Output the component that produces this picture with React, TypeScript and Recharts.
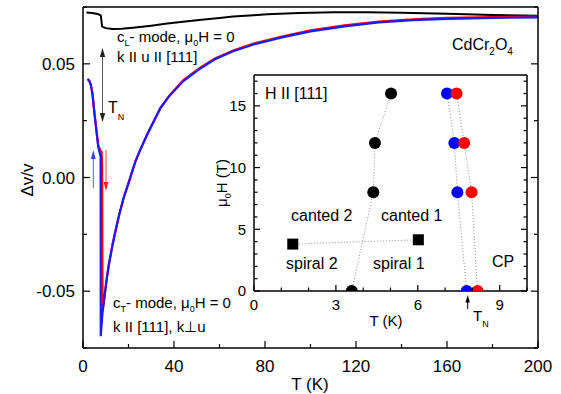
import React from 'react';
import { LineChart, Line, XAxis, YAxis } from 'recharts';

const FONT = '"Liberation Sans", Arial, Helvetica, sans-serif';

// ---------- main chart data (T in K, Δv/v) ----------
const cLTemps = [1.5, 4, 6.5, 7.8, 8.1, 8.4, 10, 13, 17, 22, 30, 37, 45, 51, 60, 66, 75, 81, 95, 110, 125, 140, 160, 180, 200];
const cLValues = [0.0726, 0.0724, 0.0719, 0.0713, 0.069, 0.0664, 0.0657, 0.0653, 0.0654, 0.0659, 0.0668, 0.0677, 0.0686, 0.0693, 0.0702, 0.0708, 0.0714, 0.0718, 0.0724, 0.0727, 0.0727, 0.0725, 0.072, 0.0715, 0.0711];

const redTemps = [2.0, 2.8, 3.5, 4.2, 5.0, 5.8, 6.7, 7.5, 8.2, 8.4, 8.6, 9.5, 10.5, 11.5, 13, 14.5, 16, 18, 20, 23, 25, 28, 31, 34, 38, 44, 51, 58, 66, 75, 87, 100, 115, 130, 145, 160, 180, 200];
const redValues = [0.0433, 0.0425, 0.0405, 0.0365, 0.0285, 0.0215, 0.014, 0.0122, 0.0112, 0.005, -0.059, -0.052, -0.044, -0.0375, -0.0295, -0.0225, -0.016, -0.0085, -0.0025, 0.007, 0.0118, 0.0185, 0.0245, 0.0305, 0.036, 0.0427, 0.048, 0.0524, 0.0559, 0.0589, 0.0619, 0.0647, 0.0669, 0.0686, 0.0696, 0.0702, 0.0706, 0.0708];

const blueTemps = [2.0, 2.8, 3.5, 4.2, 5.0, 5.8, 6.7, 7.3, 7.75, 7.8, 8.6, 9.5, 10.5, 11.5, 13, 14.5, 16, 18, 20, 23, 25, 28, 31, 34, 38, 44, 51, 58, 66, 75, 87, 100, 115, 130, 145, 160, 180, 200];
const blueValues = [0.0433, 0.0425, 0.0405, 0.0365, 0.0285, 0.0215, 0.0135, 0.011, 0.0092, -0.0698, -0.059, -0.052, -0.044, -0.0375, -0.0295, -0.0225, -0.016, -0.0085, -0.0025, 0.007, 0.0118, 0.0185, 0.0245, 0.0305, 0.036, 0.0423, 0.0476, 0.052, 0.0555, 0.0585, 0.0615, 0.0643, 0.0665, 0.0682, 0.0692, 0.0698, 0.0702, 0.0704];

const mainXTicks = [0, 20, 40, 60, 80, 100, 120, 140, 160, 180, 200];
const mainXLabels = [0, 40, 80, 120, 160, 200];
const mainYTicks = [-0.075, -0.05, -0.025, 0, 0.025, 0.05, 0.075];
const mainYLabels = [-0.05, 0, 0.05];

// ---------- inset data (T in K, μ0H in T) ----------
const blackCircT = [3.58, 4.37, 4.43, 5.02];
const blackCircH = [0, 8, 12, 16];
const blueCircT = [7.79, 7.45, 7.34, 7.07];
const blueCircH = [0, 8, 12, 16];
const redCircT = [8.19, 7.97, 7.7, 7.42];
const redCircH = [0, 8, 12, 16];
const squareT = [1.42, 6.02];
const squareH = [3.8, 4.15];

const insetXTicks = [0, 1, 2, 3, 4, 5, 6, 7, 8, 9, 10];
const insetXLabels = [0, 3, 6, 9];
const insetYTicks = [0, 1, 2, 3, 4, 5, 6, 7, 8, 9, 10, 11, 12, 13, 14, 15, 16, 17];
const insetYLabels = [0, 5, 10, 15];

const zipTV = (ts: number[], vs: number[]) => ts.map((T, i) => ({ T, v: vs[i] }));
const zipXY = (xs: number[], ys: number[]) => xs.map((x, i) => ({ x, y: ys[i] }));

const cLData = zipTV(cLTemps, cLValues);
const redData = zipTV(redTemps, redValues);
const blueData = zipTV(blueTemps, blueValues);

const blackCirc = zipXY(blackCircT, blackCircH);
const blueCirc = zipXY(blueCircT, blueCircH);
const redCirc = zipXY(redCircT, redCircH);
const squares = zipXY(squareT, squareH);

type Side = 'bottom' | 'top' | 'left' | 'right';

const makeTick = (
  side: Side,
  labels: number[],
  fmt: (v: number) => string,
  majorLen: number,
  minorLen: number,
  fontSize: number,
  gap: number,
  showLabels: boolean
) => (props: any) => {
  const { x, y, payload } = props;
  const v = payload.value as number;
  const isMajor = labels.some((l) => Math.abs(l - v) < 1e-9);
  const len = isMajor ? majorLen : minorLen;
  let line;
  let label = null;
  if (side === 'bottom') {
    line = <line x1={x} x2={x} y1={y} y2={y - len} stroke="#000" strokeWidth={1.2} />;
    if (showLabels && isMajor)
      label = (
        <text x={x} y={y + gap} textAnchor="middle" fontSize={fontSize} fontFamily={FONT} fill="#000">
          {fmt(v)}
        </text>
      );
  } else if (side === 'top') {
    line = <line x1={x} x2={x} y1={y} y2={y + len} stroke="#000" strokeWidth={1.2} />;
  } else if (side === 'left') {
    line = <line x1={x} x2={x + len} y1={y} y2={y} stroke="#000" strokeWidth={1.2} />;
    if (showLabels && isMajor)
      label = (
        <text x={x - gap} y={y + fontSize * 0.36} textAnchor="end" fontSize={fontSize} fontFamily={FONT} fill="#000">
          {fmt(v)}
        </text>
      );
  } else {
    line = <line x1={x} x2={x - len} y1={y} y2={y} stroke="#000" strokeWidth={1.2} />;
  }
  return (
    <g>
      {line}
      {label}
    </g>
  );
};

const fmtInt = (v: number) => String(v);
const fmtY = (v: number) => (Math.abs(v) < 1e-9 ? '0.00' : v.toFixed(2));

const axisLine = { stroke: '#000', strokeWidth: 1.5 };

const MainChart = () => (
  <LineChart width={561} height={394} margin={{ top: 6, right: 22, bottom: 16, left: 23 }}>
    <XAxis
      xAxisId="b"
      dataKey="T"
      type="number"
      domain={[0, 200]}
      allowDataOverflow
      ticks={mainXTicks}
      interval={0}
      tickSize={0}
      tickMargin={0}
      tickLine={false}
      axisLine={axisLine}
      height={30}
      tick={makeTick('bottom', mainXLabels, fmtInt, 7, 4, 17, 23.5, true)}
    />
    <XAxis
      xAxisId="t"
      orientation="top"
      type="number"
      domain={[0, 200]}
      allowDataOverflow
      ticks={mainXTicks}
      interval={0}
      tickSize={0}
      tickMargin={0}
      tickLine={false}
      axisLine={axisLine}
      height={1}
      tick={makeTick('top', mainXLabels, fmtInt, 7, 4, 17, 0, false)}
    />
    <YAxis
      yAxisId="l"
      type="number"
      domain={[-0.075, 0.075]}
      allowDataOverflow
      ticks={mainYTicks}
      interval={0}
      tickSize={0}
      tickMargin={0}
      tickLine={false}
      axisLine={axisLine}
      width={60}
      tick={makeTick('left', mainYLabels, fmtY, 7, 4, 17, 8, true)}
    />
    <YAxis
      yAxisId="r"
      orientation="right"
      type="number"
      domain={[-0.075, 0.075]}
      allowDataOverflow
      ticks={mainYTicks}
      interval={0}
      tickSize={0}
      tickMargin={0}
      tickLine={false}
      axisLine={axisLine}
      width={1}
      tick={makeTick('right', mainYLabels, fmtY, 7, 4, 17, 0, false)}
    />
    <Line xAxisId="b" yAxisId="l" data={cLData} dataKey="v" stroke="#000" strokeWidth={2} dot={false} isAnimationActive={false} type="linear" />
    <Line xAxisId="b" yAxisId="l" data={redData} dataKey="v" stroke="#ff0000" strokeWidth={2.2} dot={false} isAnimationActive={false} type="linear" />
    <Line xAxisId="b" yAxisId="l" data={blueData} dataKey="v" stroke="#1a1aff" strokeWidth={2.2} dot={false} isAnimationActive={false} type="linear" />
  </LineChart>
);

const SquareDot = (props: any) => {
  const { cx, cy } = props;
  if (cx == null || cy == null) return <g />;
  return <rect x={cx - 5.5} y={cy - 5.5} width={11} height={11} fill="#000" />;
};

const dotted = { stroke: '#8c8c8c', strokeWidth: 1, strokeDasharray: '1 2' };

const InsetChart = () => (
  <LineChart width={340} height={270} margin={{ top: 14, right: 12, bottom: 9, left: 14 }}>
    <XAxis
      xAxisId="b"
      dataKey="x"
      type="number"
      domain={[0, 10]}
      allowDataOverflow
      ticks={insetXTicks}
      interval={0}
      tickSize={0}
      tickMargin={0}
      tickLine={false}
      axisLine={axisLine}
      height={30}
      tick={makeTick('bottom', insetXLabels, fmtInt, 6, 3.5, 15, 19, true)}
    />
    <XAxis
      xAxisId="t"
      orientation="top"
      type="number"
      domain={[0, 10]}
      allowDataOverflow
      ticks={insetXTicks}
      interval={0}
      tickSize={0}
      tickMargin={0}
      tickLine={false}
      axisLine={axisLine}
      height={1}
      tick={makeTick('top', insetXLabels, fmtInt, 6, 3.5, 15, 0, false)}
    />
    <YAxis
      yAxisId="l"
      type="number"
      domain={[0, 17.5]}
      allowDataOverflow
      ticks={insetYTicks}
      interval={0}
      tickSize={0}
      tickMargin={0}
      tickLine={false}
      axisLine={axisLine}
      width={40}
      tick={makeTick('left', insetYLabels, fmtInt, 6, 3.5, 15, 8, true)}
    />
    <YAxis
      yAxisId="r"
      orientation="right"
      type="number"
      domain={[0, 17.5]}
      allowDataOverflow
      ticks={insetYTicks}
      interval={0}
      tickSize={0}
      tickMargin={0}
      tickLine={false}
      axisLine={axisLine}
      width={1}
      tick={makeTick('right', insetYLabels, fmtInt, 6, 3.5, 15, 0, false)}
    />
    <Line xAxisId="b" yAxisId="l" data={squares} dataKey="y" {...dotted} dot={SquareDot} isAnimationActive={false} type="linear" />
    <Line xAxisId="b" yAxisId="l" data={blackCirc} dataKey="y" {...dotted} dot={{ r: 6, fill: '#000', stroke: 'none', clipDot: true }} isAnimationActive={false} type="linear" />
    <Line xAxisId="b" yAxisId="l" data={blueCirc} dataKey="y" {...dotted} dot={{ r: 6, fill: '#0000ff', stroke: 'none', clipDot: true }} isAnimationActive={false} type="linear" />
    <Line xAxisId="b" yAxisId="l" data={redCirc} dataKey="y" {...dotted} dot={{ r: 6, fill: '#ff0000', stroke: 'none', clipDot: true }} isAnimationActive={false} type="linear" />
  </LineChart>
);

const Overlay = () => (
  <svg width={561} height={394} style={{ position: 'absolute', left: 0, top: 0, pointerEvents: 'none' }} fontFamily={FONT}>
    {/* main axis labels */}
    <text x={310} y={390} textAnchor="middle" fontSize={17}>T (K)</text>
    <text transform="translate(33,180) rotate(-90)" textAnchor="middle" fontSize={17}>Δv/v</text>

    {/* c_L annotation */}
    <text x={117} y={42} fontSize={15}>
      c<tspan fontSize={9} dy={4}>L</tspan>
      <tspan dy={-4}>- mode, μ</tspan>
      <tspan fontSize={9} dy={4}>0</tspan>
      <tspan dy={-4}>H = 0</tspan>
    </text>
    <text x={117} y={62} fontSize={15}>k II u II [111]</text>

    {/* c_T annotation */}
    <text x={113} y={308} fontSize={15}>
      c<tspan fontSize={9} dy={4}>T</tspan>
      <tspan dy={-4}>- mode, μ</tspan>
      <tspan fontSize={9} dy={4}>0</tspan>
      <tspan dy={-4}>H = 0</tspan>
    </text>
    <text x={113} y={332} fontSize={15}>k II [111], k⊥u</text>

    <text x={452} y={50} fontSize={16}>
      CdCr<tspan fontSize={10} dy={5}>2</tspan>
      <tspan dy={-5}>O</tspan>
      <tspan fontSize={10} dy={5}>4</tspan>
    </text>

    {/* T_N double arrow (main) */}
    <line x1={102.5} x2={102.5} y1={55} y2={115} stroke="#555" strokeWidth={1} />
    <polygon points="102.5,48 99.8,57 105.2,57" fill="#222" />
    <polygon points="102.5,122 99.8,113 105.2,113" fill="#222" />
    <text x={108} y={113} fontSize={16}>
      T<tspan fontSize={9} dy={7}>N</tspan>
    </text>

    {/* blue (up) and red (down) arrows */}
    <line x1={93.3} x2={93.3} y1={188} y2={157} stroke="#5060ff" strokeWidth={1} />
    <polygon points="93.3,150 90.9,159 95.7,159" fill="#3040ff" />
    <line x1={106} x2={106} y1={150} y2={184} stroke="#ff4040" strokeWidth={1} />
    <polygon points="106,191 103.6,182 108.4,182" fill="#ff2020" />

    {/* inset texts */}
    <text x={265} y={99} fontSize={16}>H II [111]</text>
    <text x={291} y={221} fontSize={16}>canted 2</text>
    <text x={381} y={221} fontSize={16}>canted 1</text>
    <text x={286} y={269} fontSize={16}>spiral 2</text>
    <text x={373} y={269} fontSize={16}>spiral 1</text>
    <text x={492} y={267} fontSize={16}>CP</text>

    <text x={386} y={326} textAnchor="middle" fontSize={15}>T (K)</text>
    <text transform="translate(227,183) rotate(-90)" textAnchor="middle" fontSize={15}>
      μ<tspan fontSize={9} dy={4}>0</tspan>
      <tspan dy={-4}>H (T)</tspan>
    </text>

    {/* inset T_N arrow */}
    <line x1={467.7} x2={467.7} y1={309} y2={301} stroke="#000" strokeWidth={1} />
    <polygon points="467.7,295 465.5,302.5 469.9,302.5" fill="#000" />
    <text x={473} y={321} fontSize={15}>
      T<tspan fontSize={9} dy={6}>N</tspan>
    </text>
  </svg>
);

export default function App() {
  return (
    <div style={{ position: 'absolute', left: 0, top: 0, width: 561, height: 394, background: '#fff', fontFamily: FONT }}>
      <div style={{ position: 'absolute', left: 0, top: 0 }}>
        <MainChart />
      </div>
      <div style={{ position: 'absolute', left: 200, top: 60 }}>
        <InsetChart />
      </div>
      <Overlay />
    </div>
  );
}
